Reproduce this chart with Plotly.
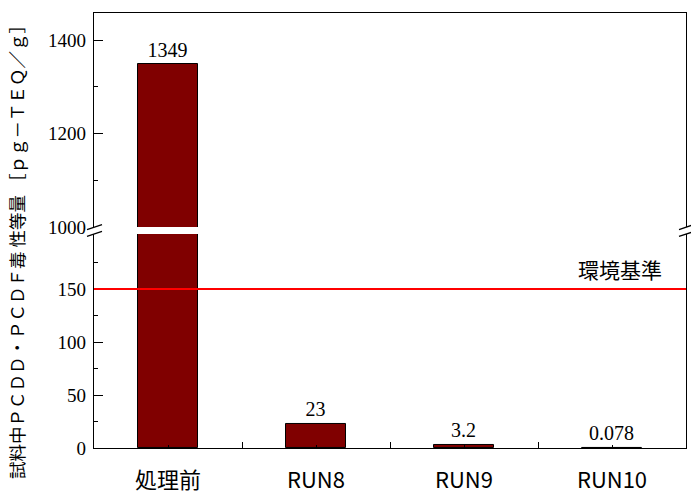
import plotly.graph_objects as go

# Sample groups and their dioxin toxic-equivalent concentrations
categories = ["処理前", "RUN8", "RUN9", "RUN10"]
values = [1349, 23, 3.2, 0.078]
standard_value = 150
standard_label = "環境基準"
y_title = "試料中ＰＣＤＤ・ＰＣＤＦ毒 性等量 ［ｐｇ－ＴＥＱ／ｇ］"

# Broken y axis: lower and upper segments
lower_range = [0, 202]
upper_range = [1000, 1458]
break_value = 1000
lower_major = [0, 50, 100, 150]
lower_minor = [25, 75, 125, 175]
upper_major = [1000, 1200, 1400]
upper_minor = [1100, 1300]

LOWER_DOMAIN = [0, 0.492]
UPPER_DOMAIN = [0.508, 1]

BAR_COLOR = "#800000"
SERIF = "Liberation Serif"
SANS_JP = "Noto Sans CJK JP"

x_pos = list(range(len(categories)))
labels = [f"{v:g}" for v in values]

fig = go.Figure()

common_bar = dict(
    x=x_pos,
    y=values,
    width=0.4,
    marker=dict(color=BAR_COLOR, line=dict(color="black", width=1)),
    textposition="outside",
    textfont=dict(family=SERIF, size=20, color="black"),
    showlegend=False,
    hoverinfo="skip",
)

# Lower segment bars (labels for values below the break)
fig.add_trace(go.Bar(
    text=[lab if v < break_value else "" for v, lab in zip(values, labels)],
    xaxis="x", yaxis="y", **common_bar,
))
# Upper segment bars (labels for values above the break)
fig.add_trace(go.Bar(
    text=[lab if v >= break_value else "" for v, lab in zip(values, labels)],
    xaxis="x2", yaxis="y2", **common_bar,
))

axis_line = dict(showline=True, linecolor="black", linewidth=1.3,
                 showgrid=False, zeroline=False, automargin=False)

fig.update_layout(
    width=691, height=494,
    margin=dict(l=94, r=5, t=13, b=46),
    plot_bgcolor="white", paper_bgcolor="white",
    bargap=0,
    xaxis=dict(
        domain=[0, 1], anchor="y", range=[-0.5, 3.5],
        tickmode="array", tickvals=x_pos, ticktext=categories,
        ticks="inside", ticklen=3, tickcolor="black", tickwidth=1,
        minor=dict(tickmode="array", tickvals=[0.5, 1.5, 2.5],
                   ticks="inside", ticklen=6, tickcolor="black", tickwidth=1),
        tickfont=dict(family=SANS_JP, size=22, color="black"),
        ticklabelstandoff=12,
        **axis_line,
    ),
    xaxis2=dict(
        domain=[0, 1], anchor="y2", matches="x", range=[-0.5, 3.5],
        side="top", showticklabels=False, ticks="",
        **axis_line,
    ),
    yaxis=dict(
        domain=LOWER_DOMAIN, anchor="x", range=lower_range,
        tickmode="array", tickvals=lower_major,
        ticks="inside", ticklen=9, tickcolor="black", tickwidth=1,
        minor=dict(tickmode="array", tickvals=lower_minor,
                   ticks="inside", ticklen=4, tickcolor="black", tickwidth=1),
        tickfont=dict(family=SERIF, size=19, color="black"),
        ticklabelstandoff=3,
        mirror=True,
        **axis_line,
    ),
    yaxis2=dict(
        domain=UPPER_DOMAIN, anchor="x2", range=upper_range,
        tickmode="array", tickvals=upper_major,
        ticks="inside", ticklen=9, tickcolor="black", tickwidth=1,
        minor=dict(tickmode="array", tickvals=upper_minor,
                   ticks="inside", ticklen=4, tickcolor="black", tickwidth=1),
        tickfont=dict(family=SERIF, size=19, color="black"),
        ticklabelstandoff=3,
        mirror=True,
        **axis_line,
    ),
)

# Environmental standard line
fig.add_shape(type="line", xref="paper", x0=0, x1=1, yref="y",
              y0=standard_value, y1=standard_value,
              line=dict(color="#ff0000", width=2))
fig.add_annotation(text=standard_label, xref="paper", x=0.963, xanchor="right",
                   yref="y", y=standard_value, yanchor="bottom", yshift=3,
                   showarrow=False,
                   font=dict(family=SANS_JP, size=21, color="black"))

# Axis-break marks on both vertical axes
for xa in (0, 1):
    for ya in (UPPER_DOMAIN[0], LOWER_DOMAIN[1]):
        fig.add_shape(type="line",
                      xref="paper", xsizemode="pixel", xanchor=xa, x0=-7, x1=8,
                      yref="paper", ysizemode="pixel", yanchor=ya, y0=-2.5, y1=2.5,
                      line=dict(color="black", width=1.3))

# Shared y-axis title spanning both segments
fig.add_annotation(text=y_title, textangle=-90, xref="paper", x=-0.13,
                   xanchor="center", yref="paper", y=0.46, yanchor="middle",
                   showarrow=False, borderpad=0,
                   font=dict(family=SANS_JP, size=17.5, color="black"))

fig.write_html("out.html")
